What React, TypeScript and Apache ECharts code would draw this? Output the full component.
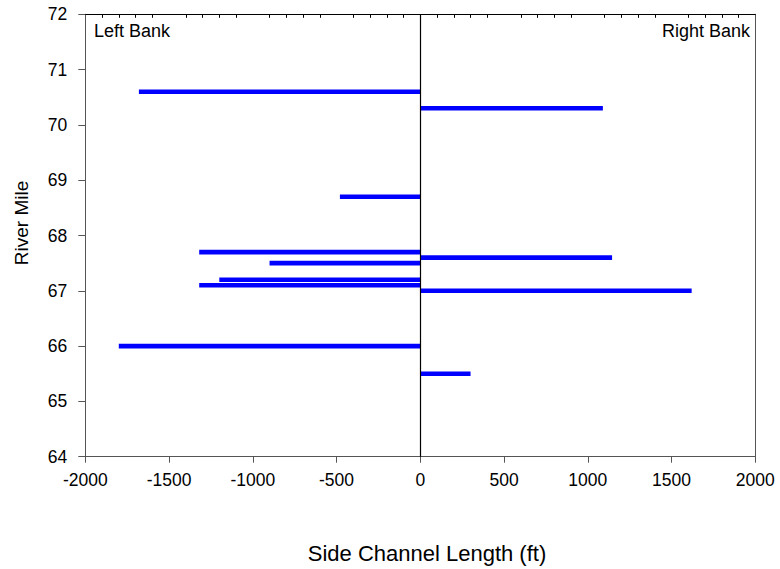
import React, { useEffect, useRef } from "react";
import * as echarts from "echarts";

// River mile of each side channel (y) and its signed length in ft (x; negative = left bank)
const riverMile = [70.6, 70.3, 68.7, 67.7, 67.6, 67.5, 67.2, 67.1, 67.0, 66.0, 65.5];
const channelLength = [-1680, 1090, -480, -1320, 1145, -900, -1200, -1320, 1620, -1800, 300];

const xMin = -2000;
const xMax = 2000;
const xInterval = 500;
const yMin = 64;
const yMax = 72;
const yInterval = 1;

const xTitle = "Side Channel Length (ft)";
const yTitle = "River Mile";
const leftLabel = "Left Bank";
const rightLabel = "Right Bank";

const FONT = "'Liberation Sans', Arial, Helvetica, sans-serif";

export default function App() {
  const ref = useRef<HTMLDivElement>(null);

  useEffect(() => {
    if (!ref.current) return;
    const chart = echarts.init(ref.current, null, { renderer: "svg" });
    const data = riverMile.map((m, i) => [channelLength[i], m]);
    const frameColor = "#555";

    chart.setOption({
      animation: false,
      backgroundColor: "#ffffff",
      grid: { left: 85.3, right: 24.7, top: 14.3, bottom: 112.3, containLabel: false },
      xAxis: [
        {
          type: "value",
          position: "bottom",
          min: xMin,
          max: xMax,
          interval: xInterval,
          axisLine: { show: true, onZero: false, lineStyle: { color: frameColor, width: 1 } },
          axisTick: { show: true, length: 6, lineStyle: { color: frameColor, width: 1 } },
          axisLabel: {
            color: "#000",
            fontSize: 17.5,
            fontFamily: FONT,
            margin: 14,
            formatter: (v: number) => String(v),
          },
          splitLine: { show: false },
        },
        {
          type: "value",
          position: "top",
          min: xMin,
          max: xMax,
          interval: xInterval,
          axisLine: { show: true, onZero: false, lineStyle: { color: "#000", width: 1 } },
          axisTick: { show: false, inside: true },
          minorTick: { show: true, splitNumber: 5, length: 3.5, lineStyle: { color: "#000", width: 1 } },
          axisLabel: { show: false },
          splitLine: { show: false },
        },
      ],
      yAxis: [
        {
          type: "value",
          position: "left",
          min: yMin,
          max: yMax,
          interval: yInterval,
          axisLine: { show: true, onZero: false, lineStyle: { color: frameColor, width: 1 } },
          axisTick: { show: true, length: 7, lineStyle: { color: frameColor, width: 1 } },
          axisLabel: { color: "#000", fontSize: 17.5, fontFamily: FONT, margin: 18 },
          splitLine: { show: false },
        },
        {
          type: "value",
          position: "right",
          min: yMin,
          max: yMax,
          interval: yInterval,
          axisLine: { show: true, onZero: false, lineStyle: { color: frameColor, width: 1 } },
          axisTick: { show: false },
          axisLabel: { show: false },
          splitLine: { show: false },
        },
      ],
      series: [
        {
          type: "custom",
          xAxisIndex: 0,
          yAxisIndex: 0,
          encode: { x: 0, y: 1 },
          data,
          renderItem: (params: any, api: any) => {
            const len = api.value(0);
            const y = api.value(1);
            const p0 = api.coord([0, y]);
            const p1 = api.coord([len, y]);
            const h = 4.6;
            return {
              type: "rect",
              shape: {
                x: Math.min(p0[0], p1[0]),
                y: p0[1] - h / 2,
                width: Math.abs(p1[0] - p0[0]),
                height: h,
              },
              style: { fill: "#0000ff" },
            };
          },
          markLine: {
            silent: true,
            symbol: "none",
            label: { show: false },
            lineStyle: { color: "#000", width: 1.2, type: "solid" },
            data: [{ xAxis: 0 }],
          },
          z: 2,
        },
      ],
      graphic: [
        {
          type: "text",
          x: 94,
          y: 31,
          style: { text: leftLabel, fontSize: 18, fontFamily: FONT, fill: "#000", textAlign: "left", textVerticalAlign: "middle" },
        },
        {
          type: "text",
          x: 750,
          y: 31,
          style: { text: rightLabel, fontSize: 18, fontFamily: FONT, fill: "#000", textAlign: "right", textVerticalAlign: "middle" },
        },
        {
          type: "text",
          x: 427,
          y: 553,
          style: { text: xTitle, fontSize: 22, fontFamily: FONT, fill: "#000", textAlign: "center", textVerticalAlign: "middle" },
        },
        {
          type: "text",
          x: 21,
          y: 223,
          rotation: Math.PI / 2,
          style: { text: yTitle, fontSize: 19, fontFamily: FONT, fill: "#000", textAlign: "center", textVerticalAlign: "middle" },
        },
      ],
    });

    return () => chart.dispose();
  }, []);

  return (
    <div
      ref={ref}
      style={{ position: "fixed", left: 0, top: 0, width: 780, height: 569, background: "#fff" }}
    />
  );
}
